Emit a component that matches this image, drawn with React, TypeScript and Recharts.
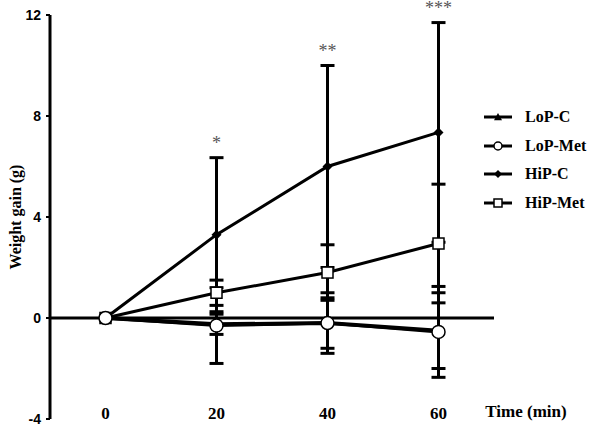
import { LineChart, Line, XAxis, YAxis, ErrorBar, ReferenceLine, ReferenceDot } from "recharts";

const times = [0, 20, 40, 60];
const lopC = [0, -0.25, -0.2, -0.5];
const lopCErr = [0, 0.4, 1.0, 1.5];
const lopMet = [0, -0.3, -0.2, -0.55];
const lopMetErr = [0, 1.5, 1.2, 1.8];
const hipC = [0, 3.3, 6.0, 7.35];
const hipCErr = [0, 3.05, 4.0, 4.35];
const hipMet = [0, 1.0, 1.8, 2.95];
const hipMetErr = [0, 0.5, 1.1, 2.35];
const stars = ["", "*", "**", "***"];
const xTicks = [0, 20, 40, 60];
const yTicks = [-4, 0, 4, 8, 12];

const data = times.map((t, i) => ({
  time: t,
  lopC: lopC[i],
  lopCErr: lopCErr[i],
  lopMet: lopMet[i],
  lopMetErr: lopMetErr[i],
  hipC: hipC[i],
  hipCErr: hipCErr[i],
  hipMet: hipMet[i],
  hipMetErr: hipMetErr[i],
}));

const serif = "'Liberation Serif', 'Times New Roman', serif";
const sans = "'Liberation Sans', Arial, sans-serif";

const Triangle = ({ cx, cy, s = 5 }: any) => (
  <path d={`M${cx},${cy - s} L${cx + s},${cy + s * 0.8} L${cx - s},${cy + s * 0.8} Z`} fill="#000" />
);
const Circle = ({ cx, cy, r = 6.5 }: any) => (
  <circle cx={cx} cy={cy} r={r} fill="#fff" stroke="#000" strokeWidth={1.5} />
);
const Diamond = ({ cx, cy, s = 5 }: any) => (
  <path d={`M${cx},${cy - s} L${cx + s},${cy} L${cx},${cy + s} L${cx - s},${cy} Z`} fill="#000" />
);
const Square = ({ cx, cy, s = 5.5 }: any) => (
  <rect x={cx - s} y={cy - s} width={s * 2} height={s * 2} fill="#fff" stroke="#000" strokeWidth={1.5} />
);

const series = [
  { key: "hipC", name: "HiP-C", Shape: Diamond, width: 3 },
  { key: "hipMet", name: "HiP-Met", Shape: Square, width: 3 },
  { key: "lopC", name: "LoP-C", Shape: Triangle, width: 4 },
  { key: "lopMet", name: "LoP-Met", Shape: Circle, width: 3 },
];
const legendOrder = ["lopC", "lopMet", "hipC", "hipMet"];

const XTick = ({ x, y, payload }: any) => (
  <text x={x} y={y - 8} dy="0.35em" textAnchor="middle" fontFamily={serif} fontWeight="bold" fontSize={17} fill="#000">
    {payload.value}
  </text>
);

const ChartLegend = () => (
  <div style={{ position: "absolute", left: 483, top: 103, fontFamily: serif, fontWeight: "bold", fontSize: 16, color: "#000" }}>
    {legendOrder.map((k) => {
      const s = series.find((e) => e.key === k)!;
      const Shape = s.Shape;
      const small = k === "lopMet" ? { r: 4 } : { s: 4 };
      return (
        <div key={k} style={{ display: "flex", alignItems: "center", height: 28.5 }}>
          <svg width={30} height={16} style={{ marginRight: 12 }}>
            <line x1={1} y1={8} x2={29} y2={8} stroke="#000" strokeWidth={3} />
            <Shape cx={15} cy={8} {...small} />
          </svg>
          <span>{s.name}</span>
        </div>
      );
    })}
  </div>
);

export default function App() {
  return (
    <div style={{ position: "absolute", left: 0, top: 0, width: 600, height: 432, background: "#fff" }}>
      <LineChart width={600} height={432} data={data} margin={{ top: 15, right: 106, bottom: 0, left: 0 }}>
        <XAxis
          type="number"
          dataKey="time"
          domain={[-10, 70]}
          ticks={xTicks}
          interval={0}
          axisLine={false}
          tickLine={false}
          tickSize={0}
          height={13}
          tick={<XTick />}
          label={{
            content: ({ viewBox }: any) => (
              <text x={viewBox.x + viewBox.width + 32} y={viewBox.y - 8} dy="0.35em" textAnchor="middle" fontFamily={serif} fontWeight="bold" fontSize={17} fill="#000">
                Time (min)
              </text>
            ),
          }}
        />
        <YAxis
          type="number"
          domain={[-4, 12]}
          ticks={yTicks}
          interval={0}
          width={50}
          axisLine={{ stroke: "#000", strokeWidth: 3 }}
          tickLine={{ stroke: "#000", strokeWidth: 2 }}
          tickSize={4}
          tickMargin={5}
          tick={{ fill: "#000", fontSize: 14, fontWeight: "bold", fontFamily: sans }}
          label={{
            content: ({ viewBox }: any) => {
              const cy = viewBox.y + viewBox.height / 2;
              return (
                <text x={15} y={cy} transform={`rotate(-90, 15, ${cy})`} dy="0.35em" textAnchor="middle" fontFamily={serif} fontWeight="bold" fontSize={16} fill="#000">
                  Weight gain (g)
                </text>
              );
            },
          }}
        />
        <ReferenceLine y={0} stroke="#000" strokeWidth={3} />
        {series.map((s) => (
          <Line
            key={`err-${s.key}`}
            dataKey={s.key}
            stroke="none"
            dot={false}
            legendType="none"
            isAnimationActive={false}
          >
            <ErrorBar dataKey={`${s.key}Err`} direction="y" width={7} strokeWidth={3} stroke="#000" isAnimationActive={false} />
          </Line>
        ))}
        {series.map((s) => {
          const Shape = s.Shape;
          return (
            <Line
              key={s.key}
              dataKey={s.key}
              name={s.name}
              stroke="#000"
              strokeWidth={s.width}
              isAnimationActive={false}
              dot={(p: any) => <Shape key={`${s.key}-${p.index}`} cx={p.cx} cy={p.cy} />}
            />
          );
        })}
        {times.map((t, i) =>
          stars[i] ? (
            <ReferenceDot
              key={`star-${t}`}
              x={t}
              y={hipC[i] + hipCErr[i]}
              r={0}
              stroke="none"
              label={{ value: stars[i], position: "top", offset: 9, fill: "#555", fontSize: 18, fontFamily: serif }}
            />
          ) : null
        )}
      </LineChart>
      <ChartLegend />
    </div>
  );
}
